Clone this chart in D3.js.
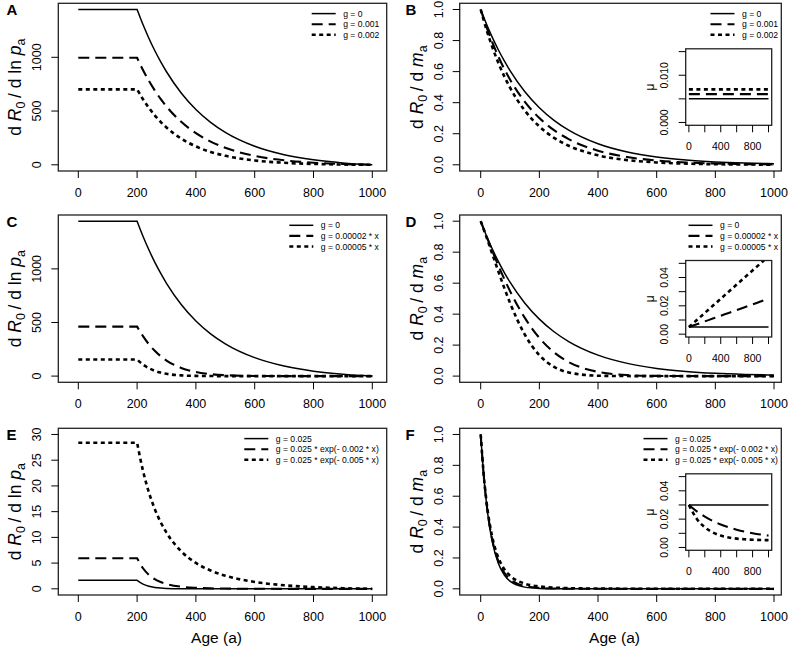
<!DOCTYPE html>
<html>
<head>
<meta charset="utf-8">
<title>Sensitivity of R0 to survival and fecundity</title>
<script src="https://d3js.org/d3.v7.min.js"></script>
<style>
  body { margin: 0; background: #fff; }
  svg { font-family: "Liberation Sans", Arial, Helvetica, sans-serif; }
</style>
</head>
<body>
<svg width="789" height="648"></svg>
<script>
// ---- data ----
// ages for the dR0/dln p panels (flat up to maturity at 200)
var agesP = [0, 200, 220, 240, 260, 280, 300, 350, 400, 450, 500, 600, 700, 800, 900, 1000];
// ages for the dR0/dm panels
var agesM = [0, 10, 20, 30, 40, 60, 80, 100, 150, 200, 250, 300, 400, 500, 600, 700, 800, 900, 1000];
// ages for the mortality insets
var agesMu = [0, 100, 200, 300, 400, 500, 600, 700, 800, 900, 1000];

// panel A
var aG0 = [1444.6, 1444.6, 1304.5, 1177.8, 1063.2, 959.4, 865.6, 668.1, 514.4, 394.6, 301.4, 172.2, 93.8, 46.3, 17.5, 0];
var aG1 = [995.7, 995.7, 882.2, 781.5, 692.2, 613.0, 542.7, 399.9, 294.1, 215.8, 157.7, 82.8, 41.7, 19.2, 6.8, 0];
var aG2 = [701.9, 701.9, 609.9, 529.9, 460.3, 399.8, 347.3, 243.9, 171.1, 119.8, 83.7, 40.2, 18.7, 8.0, 2.6, 0];
// panel B
var bG0 = [1, 0.9512, 0.9048, 0.8607, 0.8187, 0.7408, 0.6703, 0.6065, 0.4724, 0.3679, 0.2865, 0.2231, 0.1353, 0.0821, 0.0498, 0.0302, 0.0183, 0.0111, 0.0067];
var bG1 = [1, 0.9418, 0.8869, 0.8353, 0.7866, 0.6977, 0.6188, 0.5488, 0.4066, 0.3012, 0.2231, 0.1653, 0.0907, 0.0498, 0.0273, 0.0150, 0.0082, 0.0045, 0.0025];
var bG2 = [1, 0.9324, 0.8694, 0.8106, 0.7558, 0.6570, 0.5712, 0.4966, 0.3499, 0.2466, 0.1738, 0.1225, 0.0608, 0.0302, 0.0150, 0.0074, 0.0037, 0.0018, 0.0009];
// panel C
var cG0 = [1444.6, 1444.6, 1304.5, 1177.8, 1063.2, 959.4, 865.6, 668.1, 514.4, 394.6, 301.4, 172.2, 93.8, 46.3, 17.5, 0];
var cG1 = [461.8, 461.8, 372.4, 297.1, 236.3, 185.9, 145.3, 76.3, 38.1, 18.3, 8.3, 1.5, 0.2, 0, 0, 0];
var cG2 = [154.3, 154.3, 107.7, 73.8, 49.7, 32.8, 21.3, 6.6, 1.9, 0.5, 0.1, 0, 0, 0, 0, 0];
// panel D
var dG0 = [1, 0.9512, 0.9048, 0.8607, 0.8187, 0.7408, 0.6703, 0.6065, 0.4724, 0.3679, 0.2865, 0.2231, 0.1353, 0.0821, 0.0498, 0.0302, 0.0183, 0.0111, 0.0067];
var dG1 = [1, 0.9503, 0.9012, 0.8530, 0.8057, 0.7146, 0.6288, 0.5488, 0.3772, 0.2466, 0.1534, 0.0907, 0.0273, 0.0067, 0.0014, 0.0002, 0, 0, 0];
var dG2 = [1, 0.9489, 0.8958, 0.8416, 0.7866, 0.6771, 0.5712, 0.4724, 0.2691, 0.1353, 0.0600, 0.0235, 0.0025, 0.0002, 0, 0, 0, 0, 0];
// panel E
var eG0 = [1.65, 1.65, 0.907, 0.498, 0.273, 0.150, 0.082, 0.018, 0.004, 0.001, 0, 0, 0, 0, 0, 0];
var eG1 = [5.94, 5.94, 4.00, 2.73, 1.88, 1.31, 0.93, 0.41, 0.19, 0.09, 0.05, 0.01, 0, 0, 0, 0];
var eG2 = [28.40, 28.40, 22.95, 18.77, 15.53, 12.96, 10.91, 7.30, 5.04, 3.56, 2.55, 1.34, 0.69, 0.33, 0.12, 0];
// panel F
var fG0 = [1, 0.7408, 0.5488, 0.4066, 0.3012, 0.1653, 0.0907, 0.0498, 0.0111, 0.0025, 0.0006, 0.0001, 0, 0, 0, 0, 0, 0, 0];
var fG1 = [1, 0.7427, 0.5543, 0.4156, 0.3132, 0.1802, 0.1056, 0.0629, 0.0185, 0.0060, 0.0021, 0.0008, 0.0001, 0, 0, 0, 0, 0, 0];
var fG2 = [1, 0.7454, 0.5623, 0.4289, 0.3308, 0.2027, 0.1289, 0.0848, 0.0338, 0.0156, 0.0081, 0.0046, 0.0018, 0.0008, 0.0004, 0.0002, 0.0001, 0.0001, 0];

// mortality insets (mu)
var muB0 = [0.005, 0.005, 0.005, 0.005, 0.005, 0.005, 0.005, 0.005, 0.005, 0.005, 0.005];
var muB1 = [0.006, 0.006, 0.006, 0.006, 0.006, 0.006, 0.006, 0.006, 0.006, 0.006, 0.006];
var muB2 = [0.007, 0.007, 0.007, 0.007, 0.007, 0.007, 0.007, 0.007, 0.007, 0.007, 0.007];
var muD0 = [0.005, 0.005, 0.005, 0.005, 0.005, 0.005, 0.005, 0.005, 0.005, 0.005, 0.005];
var muD1 = [0.005, 0.007, 0.009, 0.011, 0.013, 0.015, 0.017, 0.019, 0.021, 0.023, 0.025];
var muD2 = [0.005, 0.010, 0.015, 0.020, 0.025, 0.030, 0.035, 0.040, 0.045, 0.050, 0.055];
var muF0 = [0.03, 0.03, 0.03, 0.03, 0.03, 0.03, 0.03, 0.03, 0.03, 0.03, 0.03];
var muF1 = [0.03, 0.02547, 0.02176, 0.01872, 0.01623, 0.01420, 0.01253, 0.01116, 0.01005, 0.00913, 0.00838];
var muF2 = [0.03, 0.02016, 0.01420, 0.01058, 0.00838, 0.00705, 0.00624, 0.00575, 0.00546, 0.00528, 0.00517];

var legendAB = ["g = 0", "g = 0.001", "g = 0.002"];
var legendCD = ["g = 0", "g = 0.00002 * x", "g = 0.00005 * x"];
var legendEF = ["g = 0.025", "g = 0.025 * exp(- 0.002 * x)", "g = 0.025 * exp(- 0.005 * x)"];
var ageTicks = [0, 200, 400, 600, 800, 1000];
var insetAgeLabels = [0, 400, 800];

// ---- layout ----
var cols = [
  {left: 58.3, right: 386.7, x0: 78.3, x1: 372.3, letterX: 6.5},
  {left: 459.7, right: 781.3, x0: 480.7, x1: 774, letterX: 405.5}
];
var rows = [{top: 3.3, bottom: 171}, {top: 215, bottom: 382.3}, {top: 428.3, bottom: 595}];
var styles = [
  {width: 1.5, dash: null},
  {width: 2.1, dash: "11,6"},
  {width: 2.6, dash: "4,3.5"}
];

var panels = [
  {id: "A", col: 0, row: 0, ages: agesP, series: [aG0, aG1, aG2], legend: legendAB, legendX: 311.7,
   yTicks: [0, 500, 1000], yFmt: d3.format("d"), kink: true, sens: "p"},
  {id: "B", col: 1, row: 0, ages: agesM, series: [bG0, bG1, bG2], legend: legendAB, legendX: 710.5,
   yTicks: [0, 0.2, 0.4, 0.6, 0.8, 1], yFmt: d3.format(".1f"), kink: false, sens: "m",
   inset: {series: [muB0, muB1, muB2], yLim: [0, 0.015], yTicks: [0, 0.005, 0.01, 0.015], yLabels: [0, 0.01], yFmt: d3.format(".3f")}},
  {id: "C", col: 0, row: 1, ages: agesP, series: [cG0, cG1, cG2], legend: legendCD, legendX: 289.3,
   yTicks: [0, 500, 1000], yFmt: d3.format("d"), kink: true, sens: "p"},
  {id: "D", col: 1, row: 1, ages: agesM, series: [dG0, dG1, dG2], legend: legendCD, legendX: 688.5,
   yTicks: [0, 0.2, 0.4, 0.6, 0.8, 1], yFmt: d3.format(".1f"), kink: false, sens: "m",
   inset: {series: [muD0, muD1, muD2], yLim: [0, 0.05], yTicks: [0, 0.01, 0.02, 0.03, 0.04, 0.05], yLabels: [0, 0.02, 0.04], yFmt: d3.format(".2f")}},
  {id: "E", col: 0, row: 2, ages: agesP, series: [eG0, eG1, eG2], legend: legendEF, legendX: 244.3, yLim: [0, 30],
   yTicks: [0, 5, 10, 15, 20, 25, 30], yFmt: d3.format("d"), kink: true, sens: "p"},
  {id: "F", col: 1, row: 2, ages: agesM, series: [fG0, fG1, fG2], legend: legendEF, legendX: 643.5,
   yTicks: [0, 0.2, 0.4, 0.6, 0.8, 1], yFmt: d3.format(".1f"), kink: false, sens: "m",
   inset: {series: [muF0, muF1, muF2], yLim: [0, 0.05], yTicks: [0, 0.01, 0.02, 0.03, 0.04, 0.05], yLabels: [0, 0.02, 0.04], yFmt: d3.format(".2f")}}
];

var svg = d3.select("svg");

// R-style axis range: data range padded by 4% on each side
function padded(lo, hi) {
  var r = hi - lo;
  return [lo - 0.04 * r, hi + 0.04 * r];
}

function curvePath(ages, vals, x, y, kink) {
  var pts = ages.map(function(a, i) { return [x(a), y(vals[i])]; });
  var mono = d3.line().curve(d3.curveMonotoneX);
  if (!kink) return mono(pts);
  // straight plateau up to the kink, smooth decay after it
  var head = d3.line()(pts.slice(0, 2));
  return head + mono(pts.slice(1)).replace(/^M[^CL]*/, "");
}

function styled(sel, k) {
  sel.attr("fill", "none").attr("stroke", "#000")
    .attr("stroke-width", styles[k].width)
    .attr("stroke-dasharray", styles[k].dash);
  return sel;
}

function yTitle(g, cx, cy, sens) {
  var t = g.append("text")
    .attr("transform", "translate(" + cx + "," + cy + ") rotate(-90)")
    .attr("text-anchor", "middle").attr("dy", "0.35em")
    .attr("font-size", 17.5);
  t.append("tspan").text("d ");
  t.append("tspan").attr("font-style", "italic").text("R");
  t.append("tspan").attr("font-size", 12.5).attr("dy", 4).text("0");
  if (sens === "p") {
    t.append("tspan").attr("dy", -4).text("\u2009/ d ln ");
    t.append("tspan").attr("font-style", "italic").text("p");
  } else {
    t.append("tspan").attr("dy", -4).text("\u2009/ d ");
    t.append("tspan").attr("font-style", "italic").text("m");
  }
  t.append("tspan").attr("font-size", 12.5).attr("dy", 4).text("a");
}

panels.forEach(function(p) {
  var c = cols[p.col], r = rows[p.row];
  var yLim = p.yLim || [0, d3.max(p.series, function(s) { return d3.max(s); })];
  var x = d3.scaleLinear().domain([0, 1000]).range([c.x0, c.x1]);
  var y = d3.scaleLinear().domain(padded(yLim[0], yLim[1])).range([r.bottom, r.top]);
  var g = svg.append("g");

  // curves
  p.series.forEach(function(s, k) {
    styled(g.append("path"), k).attr("d", curvePath(p.ages, s, x, y, p.kink));
  });

  // box
  g.append("rect").attr("x", c.left).attr("y", r.top)
    .attr("width", c.right - c.left).attr("height", r.bottom - r.top)
    .attr("fill", "none").attr("stroke", "#222").attr("stroke-width", 1.3);

  // x axis
  var xa = g.append("g");
  xa.selectAll("line").data(ageTicks).enter().append("line")
    .attr("x1", x).attr("x2", x).attr("y1", r.bottom).attr("y2", r.bottom + 7)
    .attr("stroke", "#000").attr("stroke-width", 1);
  xa.selectAll("text").data(ageTicks).enter().append("text")
    .attr("x", x).attr("y", r.bottom + 21.5).attr("dy", "0.35em")
    .attr("text-anchor", "middle").attr("font-size", 12.5).text(function(d) { return d; });

  // y axis
  var ya = g.append("g");
  ya.selectAll("line").data(p.yTicks).enter().append("line")
    .attr("x1", c.left - 7).attr("x2", c.left).attr("y1", y).attr("y2", y)
    .attr("stroke", "#000").attr("stroke-width", 1);
  ya.selectAll("text").data(p.yTicks).enter().append("text")
    .attr("transform", function(d) { return "translate(" + (c.left - 21.5) + "," + y(d) + ") rotate(-90)"; })
    .attr("dy", "0.35em").attr("text-anchor", "middle").attr("font-size", 12.5)
    .text(p.yFmt);

  yTitle(g, c.left - 43, (r.top + r.bottom) / 2, p.sens);

  // panel letter
  g.append("text").attr("x", c.letterX).attr("y", r.top + 11.8)
    .attr("font-size", 15).attr("font-weight", "bold").text(p.id);

  // legend
  var lg = g.append("g");
  p.legend.forEach(function(lab, k) {
    var ly = r.top + 10.3 + k * 10.6;
    styled(lg.append("line"), k).attr("x1", p.legendX).attr("x2", p.legendX + 24)
      .attr("y1", ly).attr("y2", ly);
    lg.append("text").attr("x", p.legendX + 31.5).attr("y", ly).attr("dy", "0.35em")
      .attr("font-size", 8.6).text(lab);
  });

  if (p.row === 2) {
    g.append("text").attr("x", (c.left + c.right) / 2 - 6).attr("y", 637.5).attr("dy", "0.35em")
      .attr("text-anchor", "middle").attr("font-size", 15.5).text("Age (a)");
  }

  // mortality inset
  if (p.inset) {
    var ib = {left: 685.7, right: 771.7, top: r.top + 45.5, bottom: r.top + 122};
    var ix = d3.scaleLinear().domain(padded(0, 1000)).range([ib.left, ib.right]);
    var iy = d3.scaleLinear().domain(padded(p.inset.yLim[0], p.inset.yLim[1])).range([ib.bottom, ib.top]);
    var ig = g.append("g");
    ig.append("rect").attr("x", ib.left).attr("y", ib.top)
      .attr("width", ib.right - ib.left).attr("height", ib.bottom - ib.top).attr("fill", "#fff");
    var clipId = "clip" + p.id;
    ig.append("clipPath").attr("id", clipId).append("rect")
      .attr("x", ib.left).attr("y", ib.top)
      .attr("width", ib.right - ib.left).attr("height", ib.bottom - ib.top);
    var lineMu = d3.line().x(function(d, i) { return ix(agesMu[i]); }).y(function(d) { return iy(d); })
      .curve(d3.curveMonotoneX);
    p.inset.series.forEach(function(s, k) {
      styled(ig.append("path"), k).attr("clip-path", "url(#" + clipId + ")").attr("d", lineMu(s));
    });
    ig.append("rect").attr("x", ib.left).attr("y", ib.top)
      .attr("width", ib.right - ib.left).attr("height", ib.bottom - ib.top)
      .attr("fill", "none").attr("stroke", "#222").attr("stroke-width", 1.3);
    ig.selectAll(".ixt").data(ageTicks).enter().append("line")
      .attr("x1", ix).attr("x2", ix).attr("y1", ib.bottom).attr("y2", ib.bottom + 7)
      .attr("stroke", "#000").attr("stroke-width", 1);
    ig.selectAll(".ixl").data(insetAgeLabels).enter().append("text")
      .attr("x", ix).attr("y", ib.bottom + 21).attr("dy", "0.35em")
      .attr("text-anchor", "middle").attr("font-size", 10.5).text(function(d) { return d; });
    ig.selectAll(".iyt").data(p.inset.yTicks).enter().append("line")
      .attr("x1", ib.left - 7).attr("x2", ib.left).attr("y1", iy).attr("y2", iy)
      .attr("stroke", "#000").attr("stroke-width", 1);
    ig.selectAll(".iyl").data(p.inset.yLabels).enter().append("text")
      .attr("transform", function(d) { return "translate(" + (ib.left - 21) + "," + iy(d) + ") rotate(-90)"; })
      .attr("dy", "0.35em").attr("text-anchor", "middle").attr("font-size", 10.5)
      .text(p.inset.yFmt);
    ig.append("text")
      .attr("transform", "translate(" + (ib.left - 36) + "," + (ib.top + ib.bottom) / 2 + ") rotate(-90)")
      .attr("dy", "0.35em").attr("text-anchor", "middle").attr("font-size", 12).text("\u03bc");
  }
});
</script>
</body>
</html>
